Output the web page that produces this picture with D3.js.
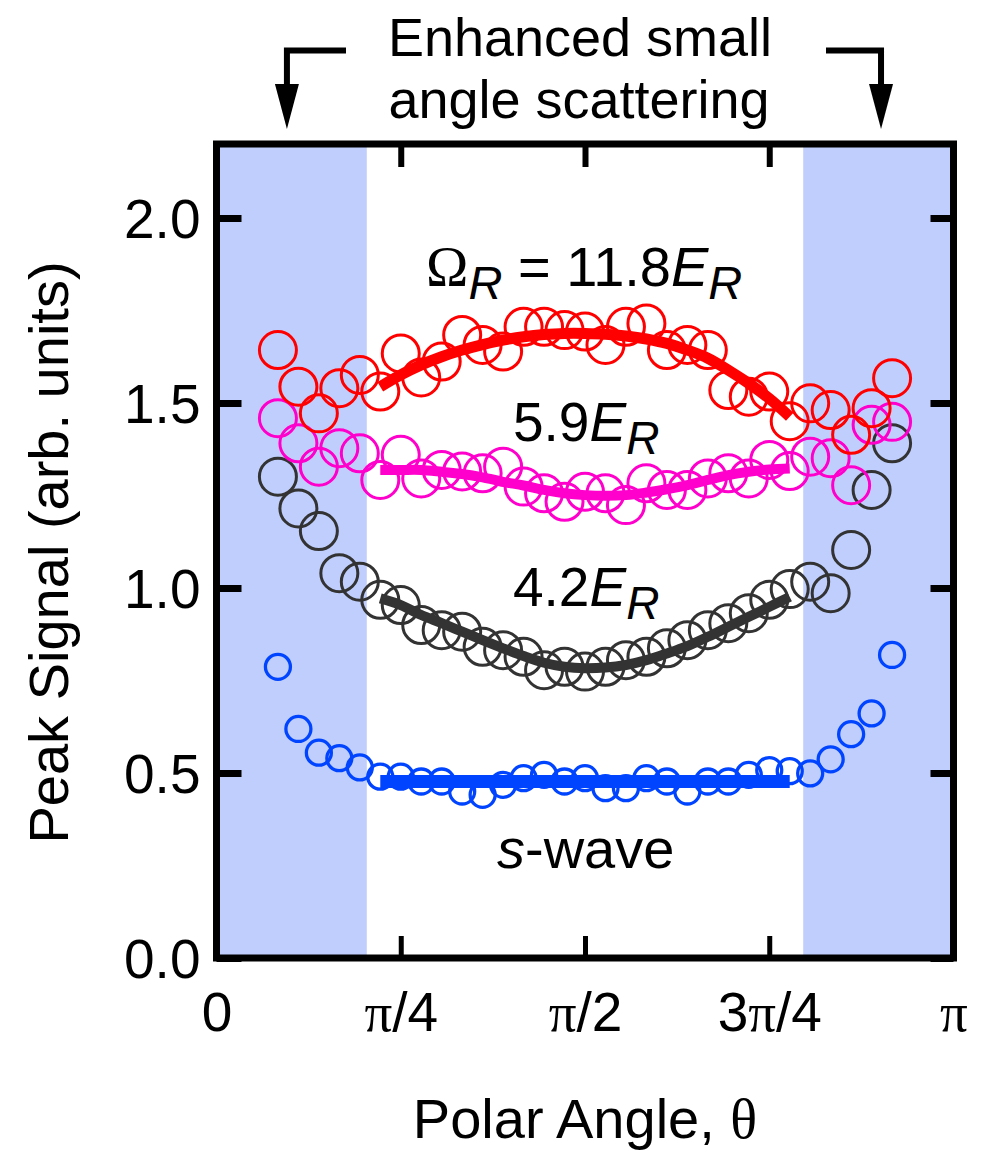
<!DOCTYPE html>
<html><head><meta charset="utf-8">
<script src="https://cdn.jsdelivr.net/npm/d3@7"></script>
<style>body{margin:0;background:#fff} svg{display:block}</style>
</head><body><svg id="c" width="981" height="1153"></svg>
<script>
// ---- data (angles in degrees) ----
const angles = [15,20,25,30,35,40,45,50,55,60,65,70,75,80,85,90,95,100,105,110,115,120,125,130,135,140,145,150,155,160,165];
const red11_8 = [1.643,1.544,1.472,1.540,1.576,1.531,1.634,1.569,1.612,1.684,1.657,1.639,1.706,1.706,1.697,1.693,1.657,1.706,1.715,1.643,1.657,1.643,1.535,1.517,1.531,1.451,1.499,1.481,1.414,1.486,1.567];
const magenta5_9 = [1.459,1.391,1.328,1.378,1.364,1.292,1.360,1.296,1.319,1.315,1.310,1.328,1.274,1.256,1.233,1.260,1.256,1.224,1.283,1.265,1.265,1.296,1.310,1.296,1.346,1.316,1.355,1.351,1.278,1.441,1.449];
const black4_2 = [1.301,1.215,1.154,1.040,1.017,0.968,0.954,0.900,0.886,0.882,0.841,0.832,0.814,0.778,0.787,0.774,0.787,0.805,0.814,0.837,0.859,0.886,0.905,0.932,0.968,0.997,1.017,0.986,1.103,1.265,1.391];
const blueSwave = [0.787,0.619,0.555,0.540,0.515,0.490,0.490,0.477,0.477,0.450,0.441,0.468,0.486,0.495,0.477,0.486,0.459,0.459,0.486,0.477,0.450,0.477,0.477,0.495,0.508,0.505,0.499,0.537,0.605,0.661,0.819];

const fitAngles = [40,45,50,55,60,65,70,75,80,85,90,95,100,105,110,115,120,125,130,135,140];
const redFit = [1.544,1.576,1.603,1.625,1.643,1.658,1.670,1.679,1.685,1.688,1.688,1.686,1.681,1.673,1.661,1.643,1.621,1.589,1.553,1.512,1.463];
const magentaFit = [1.319,1.319,1.319,1.314,1.308,1.299,1.287,1.277,1.265,1.256,1.251,1.249,1.251,1.258,1.267,1.278,1.292,1.305,1.314,1.320,1.323];
const blackFit = [0.972,0.954,0.927,0.905,0.882,0.859,0.837,0.816,0.798,0.787,0.783,0.785,0.792,0.805,0.823,0.843,0.868,0.895,0.922,0.949,0.976];
const blueFitAngles = [40,140];
const blueFit = [0.477,0.477];

const yTicks = [0,0.5,1,1.5,2];
const yTickLabels = ["0.0","0.5","1.0","1.5","2.0"];
const xTicks = [0,45,90,135,180];
const xTickLabels = ["0","π/4","π/2","3π/4","π"];
const shadeRanges = [[0,36.7],[143.3,180]];
const arrowAngles = [17.2,162.3];

// ---- layout ----
const svg = d3.select("#c");
const x = d3.scaleLinear().domain([0,180]).range([216.5,953.5]);
const y = d3.scaleLinear().domain([0,2.2]).range([958,144]);
const SANS = "'Liberation Sans', Arial, Helvetica, sans-serif";
const SERIF = "'Liberation Serif', 'Times New Roman', serif";

// shaded regions
svg.append("g").selectAll("rect").data(shadeRanges).join("rect")
  .attr("x", d => x(d[0])).attr("width", d => x(d[1]) - x(d[0]))
  .attr("y", y(2.2)).attr("height", y(0) - y(2.2))
  .attr("fill", "#bfcefc");

// axes
function styleAxis(g, w) {
  g.select(".domain").remove();
  g.selectAll(".tick line").attr("stroke", "#000").attr("stroke-width", w);
}
const gl = svg.append("g").attr("transform", `translate(${x(0)},0)`)
  .call(d3.axisLeft(y).tickValues(yTicks).tickFormat((d,i) => yTickLabels[i]).tickSize(-25).tickPadding(16));
styleAxis(gl, 7);
gl.selectAll("text").attr("font-family", SANS).attr("font-size", 55).attr("fill", "#000").attr("dy", "0.36em");

const gr = svg.append("g").attr("transform", `translate(${x(180)},0)`)
  .call(d3.axisRight(y).tickValues(yTicks).tickFormat("").tickSize(-23));
styleAxis(gr, 7);

const gt = svg.append("g").attr("transform", `translate(0,${y(2.2)})`)
  .call(d3.axisTop(x).tickValues(xTicks.slice(1,4)).tickFormat("").tickSize(-23));
styleAxis(gt, 6);

const gb = svg.append("g").attr("transform", `translate(0,${y(0)})`)
  .call(d3.axisBottom(x).tickValues(xTicks).tickFormat((d,i) => xTickLabels[i]).tickSize(-22).tickPadding(34));
styleAxis(gb, 5);
gb.selectAll(".tick").filter(d => d === 0 || d === 180).select("line").remove();
gb.selectAll("text").attr("font-family", SANS).attr("font-size", 55).attr("fill", "#000")
  .each(function() {
    const t = d3.select(this); const s = t.text(); t.text(null);
    for (const ch of s) {
      t.append("tspan").text(ch).attr("font-family", ch === "π" ? SERIF : SANS);
    }
  });

// frame
svg.append("rect").attr("x", x(0)).attr("y", y(2.2))
  .attr("width", x(180) - x(0)).attr("height", y(0) - y(2.2))
  .attr("fill", "none").attr("stroke", "#000").attr("stroke-width", 7);

// series
const series = [
  {vals: blueSwave, fitA: blueFitAngles, fit: blueFit, color: "#0044ff", r: 12.5, sw: 3.3, fw: 13},
  {vals: black4_2, fitA: fitAngles, fit: blackFit, color: "#333333", r: 18.5, sw: 3, fw: 10},
  {vals: magenta5_9, fitA: fitAngles, fit: magentaFit, color: "#ff00cc", r: 18.5, sw: 3, fw: 10},
  {vals: red11_8, fitA: fitAngles, fit: redFit, color: "#ff0000", r: 18.5, sw: 3, fw: 11}
];
const line = d3.line().x(d => x(d[0])).y(d => y(d[1])).curve(d3.curveCatmullRom);
series.forEach(s => {
  const g = svg.append("g");
  g.selectAll("circle").data(angles.map((a,i) => [a, s.vals[i]])).join("circle")
    .attr("cx", d => x(d[0])).attr("cy", d => y(d[1])).attr("r", s.r)
    .attr("fill", "none").attr("stroke", s.color).attr("stroke-width", s.sw);
  g.append("path").datum(s.fitA.map((a,i) => [a, s.fit[i]]))
    .attr("d", line).attr("fill", "none").attr("stroke", s.color)
    .attr("stroke-width", s.fw).attr("stroke-linecap", "butt");
});

// rich labels
function rich(px, py, parts, size) {
  const t = svg.append("text").attr("x", px).attr("y", py).attr("font-size", size).attr("fill", "#000");
  parts.forEach(p => {
    const ts = t.append("tspan").text(p.t).attr("font-family", p.serif ? SERIF : SANS);
    if (p.it) ts.attr("font-style", "italic");
    if (p.size) ts.attr("font-size", p.size);
    if (p.dy) ts.attr("dy", p.dy);
  });
  return t;
}
rich(426, 286, [
  {t: "Ω", serif: true, size: 57},
  {t: "R", it: true, size: 47, dy: 13},
  {t: " = 11.8", dy: -13},
  {t: "E", it: true},
  {t: "R", it: true, size: 47, dy: 13}
], 56);
rich(513, 441, [{t: "5.9"}, {t: "E", it: true}, {t: "R", it: true, size: 46, dy: 13}], 55);
rich(513, 606, [{t: "4.2"}, {t: "E", it: true}, {t: "R", it: true, size: 46, dy: 13}], 55);
rich(497, 868, [{t: "s", it: true}, {t: "-wave"}], 56);

// axis titles
svg.append("text").attr("transform", "translate(68,552.5) rotate(-90)")
  .attr("text-anchor", "middle").attr("font-family", SANS).attr("font-size", 56)
  .text("Peak Signal (arb. units)");
const xt = svg.append("text").attr("x", 585).attr("y", 1138).attr("text-anchor", "middle")
  .attr("font-size", 56).attr("font-family", SANS);
xt.append("tspan").text("Polar Angle, ");
xt.append("tspan").attr("font-family", SERIF).text("θ");

// top annotation
svg.append("text").attr("text-anchor", "middle").attr("font-family", SANS).attr("font-size", 54)
  .attr("x", 580).attr("y", 56).text("Enhanced small");
svg.append("text").attr("text-anchor", "middle").attr("font-family", SANS).attr("font-size", 54)
  .attr("x", 579).attr("y", 118).text("angle scattering");

const brackets = [
  {a: arrowAngles[0], from: 346},
  {a: arrowAngles[1], from: 826}
];
brackets.forEach(b => {
  const ax = x(b.a);
  svg.append("path").attr("d", `M${b.from},50.5 H${ax} V95`)
    .attr("fill", "none").attr("stroke", "#000").attr("stroke-width", 6);
  svg.append("path").attr("d", `M${ax-12},84 L${ax+12},84 L${ax},129 Z`).attr("fill", "#000");
});
</script>
</body></html>
